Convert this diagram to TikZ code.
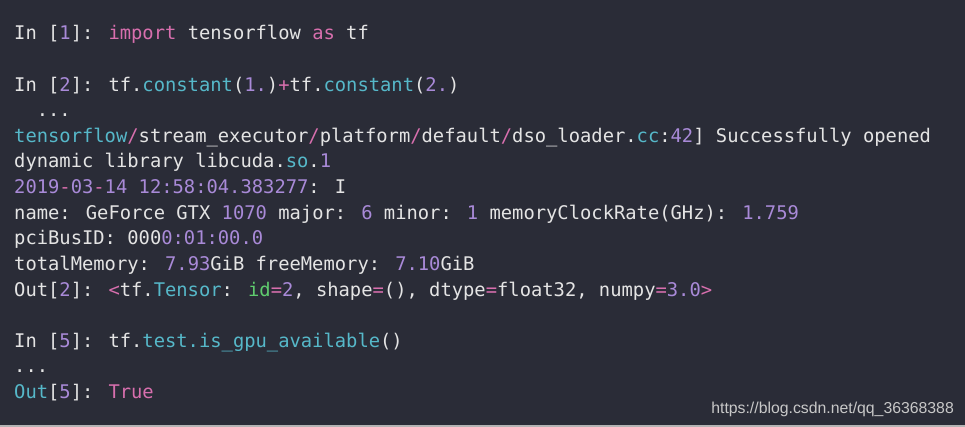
\documentclass[tikz,border=0pt]{standalone}
\usepackage{fontspec}
\usepackage{xcolor}
\newfontfamily\codefont{DejaVu Sans Mono}
\newfontfamily\markfont{Liberation Sans}
\definecolor{termbg}{HTML}{2A2C37}
\definecolor{termfg}{HTML}{E4E4E4}
\definecolor{kwpink}{HTML}{D86FAE}
\definecolor{fncyan}{HTML}{56B8C9}
\definecolor{numpurple}{HTML}{A98AD8}
\definecolor{argreen}{HTML}{5FCB6E}
\definecolor{markgray}{HTML}{C8C8C8}
\newcommand\pk[1]{\textcolor{kwpink}{#1}}
\newcommand\cy[1]{\textcolor{fncyan}{#1}}
\newcommand\pu[1]{\textcolor{numpurple}{#1}}
\newcommand\gr[1]{\textcolor{argreen}{#1}}
\tikzset{
  codeline/.style={anchor=base west, inner sep=0pt, text=termfg,
    font=\codefont\fontsize{18.8}{20}\selectfont},
  watermark/.style={anchor=base east, inner sep=0pt, text=markgray,
    font=\markfont\fontsize{15.8}{18}\selectfont}
}
\begin{document}
\begin{tikzpicture}[x=1pt,y=-1pt]
    \fill[termbg] (0,0) rectangle (965,427);
    \useasboundingbox (0,0) rectangle (965,427);
    \fill[markgray!90!black] (0,424.5) rectangle (965,427);

    % first cell
    \node[codeline] (in1) at (14,40) {In [\pu{1}]: \pk{import} tensorflow \pk{as} tf};

    % second cell
    \node[codeline] (in2) at (14,91.2) {In [\pu{2}]: tf.\cy{constant}(\pu{1.})\pk{+}tf.\cy{constant}(\pu{2.})};
    \node[codeline] (dots2) at (14,116.8) {\ \ ...};
    \node[codeline] (log1) at (14,142.4) {\cy{tensorflow}\pk{/}stream\_executor\pk{/}platform\pk{/}default\pk{/}dso\_loader.\cy{cc}:\pu{42}] Successfully opened};
    \node[codeline] (log2) at (14,168) {dynamic library libcuda.\cy{so}.\pu{1}};
    \node[codeline] (log3) at (14,193.6) {\pu{2019}\pk{-}\pu{03}\pk{-}\pu{14} \pu{12:58:04.383277}: I};
    \node[codeline] (log4) at (14,219.2) {name: GeForce GTX \pu{1070} major: \pu{6} minor: \pu{1} memoryClockRate(GHz): \pu{1.759}};
    \node[codeline] (log5) at (14,244.8) {pciBusID: 000\pu{0:01:00.0}};
    \node[codeline] (log6) at (14,270.4) {totalMemory: \pu{7.93}GiB freeMemory: \pu{7.10}GiB};
    \node[codeline] (out2) at (14,296) {Out[\pu{2}]: \pk{<}tf.\cy{Tensor}: \gr{id}\pk{=}\pu{2}, shape\pk{=}(), dtype\pk{=}float32, numpy\pk{=}\pu{3.0}\pk{>}};

    % third cell
    \node[codeline] (in5) at (14,347.2) {In [\pu{5}]: tf.\cy{test.is\_gpu\_available}()};
    \node[codeline] (dots5) at (14,372.8) {...};
    \node[codeline] (out5) at (14,398.4) {\cy{Out}[\pu{5}]: \pk{True}};

    \node[watermark] (mark) at (954,413) {https://blog.csdn.net/qq\_36368388};
\end{tikzpicture}
\end{document}
